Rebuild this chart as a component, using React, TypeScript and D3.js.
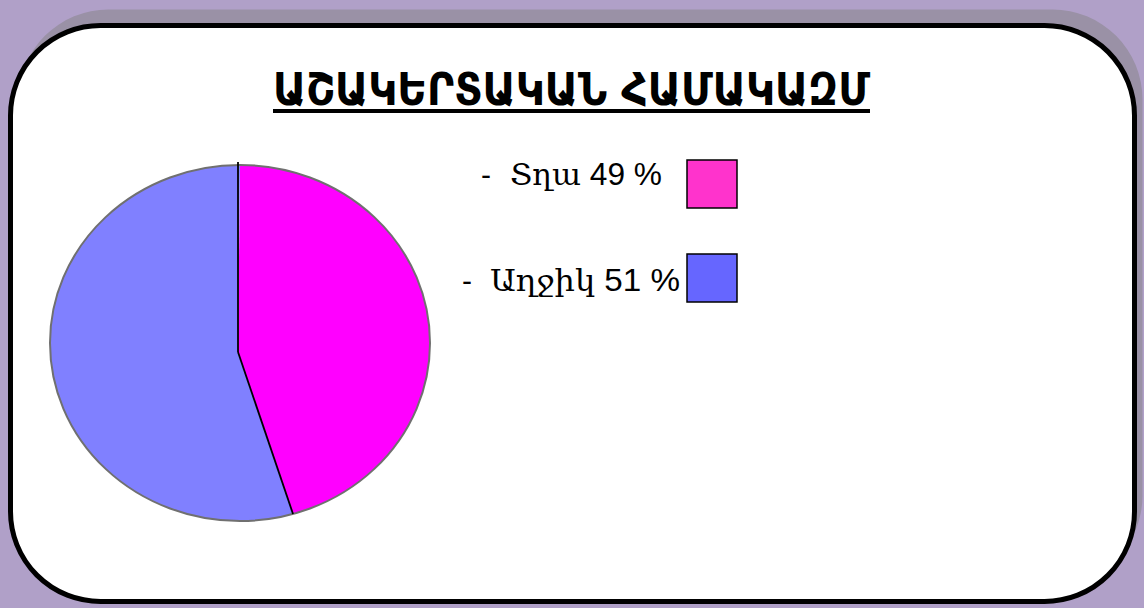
import React from "react";
import * as d3 from "d3";

const W = 1144;
const H = 608;

const title = "ԱՇԱԿԵՐՏԱԿԱՆ ՀԱՄԱԿԱԶՄ";
const categories = ["Տղա", "Աղջիկ"];
const percentLabels = ["49 %", "51 %"];
// slice sizes as drawn in the picture
const sliceValues = [45.5, 54.5];
const sliceColors = ["#ff00ff", "#8080ff"];
const swatchColors = ["#ff33cc", "#6666ff"];

export default function App() {
  const cx = 240;
  const cy = 343;
  const rx = 190;
  const ry = 178;
  const vx = 238;
  const vy = 352;

  const pie = d3.pie<number>().sort(null).value((d) => d);
  const arcs = pie(sliceValues);
  const pt = (a: number) => [cx + rx * Math.sin(a), cy - ry * Math.cos(a)];
  const slicePath = (s: number, e: number) => {
    const p0 = pt(s);
    const p1 = pt(e);
    const large = e - s > Math.PI ? 1 : 0;
    const path = d3.path();
    path.moveTo(vx, vy);
    path.lineTo(p0[0], p0[1]);
    return `${path.toString()} A${rx},${ry} 0 ${large} 1 ${p1[0]},${p1[1]} Z`;
  };

  const rectPath = (x: number, y: number, w: number, h: number, r: number) =>
    `M${x + r},${y} H${x + w - r} A${r},${r} 0 0 1 ${x + w},${y + r} V${y + h - r} A${r},${r} 0 0 1 ${x + w - r},${y + h} H${x + r} A${r},${r} 0 0 1 ${x},${y + h - r} V${y + r} A${r},${r} 0 0 1 ${x + r},${y} Z`;

  const bx = 10.5, by = 25.5, bw = 1124, bh = 576, br = 90;

  const legendRows = [
    { dashX: 481, labelX: 510, y: 185, w: 152, sx: 687, sy: 160 },
    { dashX: 462, labelX: 490, y: 291, w: 190, sx: 687, sy: 254 },
  ];

  return (
    <svg width={W} height={H} style={{ position: "absolute", left: 0, top: 0 }}>
      <rect x={0} y={0} width={W} height={H} fill="#b0a0c8" />
      <path d={rectPath(bx + 8, by - 16, bw, bh, br)} fill="#9a91a6" />
      <path d={rectPath(bx, by, bw, bh, br)} fill="#ffffff" stroke="#000" strokeWidth={5} />

      <text
        x={273}
        y={105}
        fontFamily="'DejaVu Sans Condensed', 'DejaVu Sans', sans-serif"
        fontWeight="bold"
        fontSize={44}
        textLength={597}
        lengthAdjust="spacingAndGlyphs"
        fill="#000"
      >
        {title}
      </text>
      <rect x={273} y={109} width={597} height={4} fill="#000" />

      {arcs.map((a, i) => (
        <path key={i} d={slicePath(a.startAngle, a.endAngle)} fill={sliceColors[i]} stroke="none" />
      ))}
      <ellipse cx={cx} cy={cy} rx={rx} ry={ry} fill="none" stroke="#707070" strokeWidth={2} />
      {arcs.map((a, i) => {
        const p = pt(a.startAngle);
        const top = i === 0 ? p[1] - 3 : p[1];
        return <line key={i} x1={vx} y1={vy} x2={i === 0 ? vx : p[0]} y2={top} stroke="#000" strokeWidth={1.8} />;
      })}

      {legendRows.map((r, i) => (
        <g key={i}>
          <text x={r.dashX} y={r.y} fontFamily="'Liberation Sans', Arial, sans-serif" fontSize={30} fill="#000">-</text>
          <text
            x={r.labelX}
            y={r.y}
            fontFamily="'DejaVu Serif', 'Noto Serif', serif"
            fontSize={30}
            fill="#000"
            textLength={r.w}
            lengthAdjust="spacingAndGlyphs"
          >
            {categories[i]}
            <tspan fontFamily="'Liberation Sans', Arial, sans-serif" fontSize={31}>{" " + percentLabels[i]}</tspan>
          </text>
          <rect x={r.sx} y={r.sy} width={50} height={48} fill={swatchColors[i]} stroke="#000" strokeWidth={1.5} />
        </g>
      ))}
    </svg>
  );
}
